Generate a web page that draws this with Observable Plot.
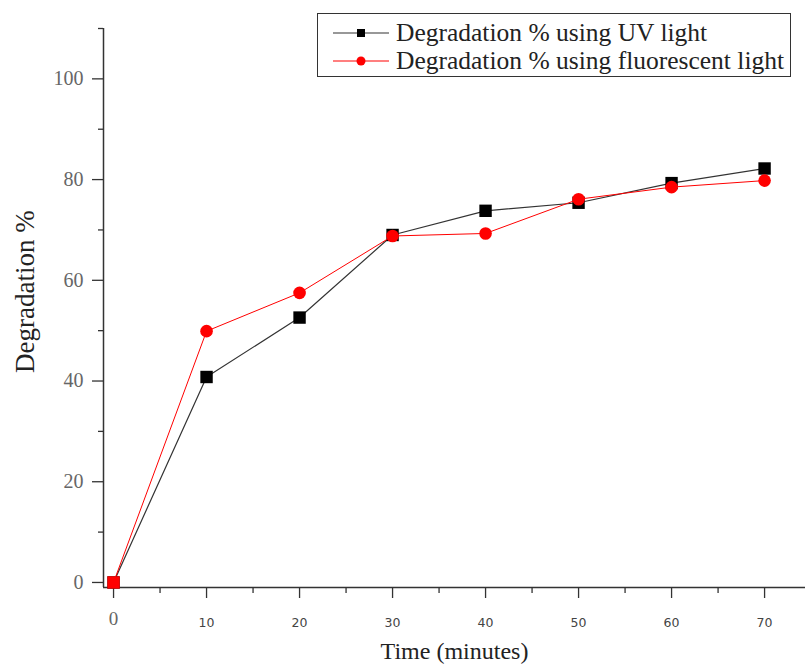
<!DOCTYPE html>
<html>
<head>
<meta charset="utf-8">
<script src="https://cdn.jsdelivr.net/npm/d3@7"></script>
<script src="https://cdn.jsdelivr.net/npm/@observablehq/plot@0.6"></script>
<style>
  body { margin: 0; background: #fff; }
  #wrap { position: relative; width: 805px; height: 664px; overflow: hidden; }
  #legend { position: absolute; left: 317px; top: 13px; width: 474px; height: 64px;
            border: 1.2px solid #333; background: #fff; box-sizing: border-box;
            font-family: "Liberation Serif", serif; font-size: 25.5px; color: #222; }
  #legend .row { position: absolute; left: 0; height: 28px; display: flex; align-items: center; white-space: nowrap; }
  #legend svg { flex: none; }
</style>
</head>
<body>
<div id="wrap"></div>
<script>
// ---- data ----
const times = [0, 10, 20, 30, 40, 50, 60, 70];
const uvValues = [0, 40.8, 52.6, 69.0, 73.8, 75.4, 79.3, 82.2];
const fluorescentValues = [0, 49.9, 57.5, 68.8, 69.3, 76.1, 78.5, 79.8];
const seriesNames = ["Degradation % using UV light", "Degradation % using fluorescent light"];
const xTickLabels = [10, 20, 30, 40, 50, 60, 70];
const xZeroTick = [0];
const xMinorTicks = [5, 15, 25, 35, 45, 55, 65];
const yTickLabels = [0, 20, 40, 60, 80, 100];
const yMinorTicks = [10, 30, 50, 70, 90, 110];
const xTitle = "Time (minutes)";
const yTitle = "Degradation %";

// ---- build tables ----
const uv = times.map((t, i) => ({ time: t, value: uvValues[i] }));
const fl = times.map((t, i) => ({ time: t, value: fluorescentValues[i] }));

const xDomain = [-1.08, 74.4];
const yDomain = [-1, 110];
const axisColor = "#333";
const serif = "Liberation Serif";
const noText = () => "";

const plot = Plot.plot({
  width: 805,
  height: 664,
  marginLeft: 103,
  marginRight: 0,
  marginTop: 28,
  marginBottom: 77,
  style: { background: "#fff", overflow: "visible" },
  x: { domain: xDomain, label: null },
  y: { domain: yDomain, label: null },
  marks: [
    // spines
    Plot.ruleX([xDomain[0]], { stroke: axisColor, strokeWidth: 1.5 }),
    Plot.ruleY([yDomain[0]], { stroke: axisColor, strokeWidth: 1.5 }),
    // y axis
    Plot.axisY(yTickLabels, { tickSize: 11, tickPadding: 9, fontSize: 20, fontFamily: serif,
      fill: "#666", stroke: axisColor, strokeWidth: 1.3, label: null }),
    Plot.axisY(yMinorTicks, { tickSize: 5, tickFormat: noText, stroke: axisColor, strokeWidth: 1.3, label: null }),
    // x axis
    Plot.axisX(xTickLabels, { tickSize: 11, tickPadding: 20, fontSize: 12.5, fontFamily: "DejaVu Sans",
      fill: "#444", stroke: axisColor, strokeWidth: 1.3, label: null }),
    Plot.axisX(xZeroTick, { tickSize: 11, tickPadding: 13, fontSize: 19, fontFamily: serif,
      fill: "#666", stroke: axisColor, strokeWidth: 1.3, label: null }),
    Plot.axisX(xMinorTicks, { tickSize: 6, tickFormat: noText, stroke: axisColor, strokeWidth: 1.3, label: null }),
    // titles
    Plot.text([xTitle], { text: d => d, frameAnchor: "bottom", lineAnchor: "middle", dy: 64,
      fontSize: 24, fontFamily: serif, fill: "#222" }),
    Plot.text([yTitle], { text: d => d, frameAnchor: "left", lineAnchor: "middle", rotate: -90,
      dx: -78, dy: 65, fontSize: 27, fontFamily: serif, fill: "#222" }),
    // UV series
    Plot.line(uv, { x: "time", y: "value", stroke: "#333", strokeWidth: 1.2 }),
    Plot.dot(uv, { x: "time", y: "value", symbol: "square", r: 7, fill: "#000", stroke: "none" }),
    // fluorescent series
    Plot.line(fl, { x: "time", y: "value", stroke: "#ff0000", strokeWidth: 1 }),
    Plot.dot(fl, { filter: d => d.time === 0, x: "time", y: "value", symbol: "square", r: 7, fill: "#ff0000", stroke: "none" }),
    Plot.dot(fl, { filter: d => d.time > 0, x: "time", y: "value", r: 6.3, fill: "#ff0000", stroke: "none" })
  ]
});

const wrap = document.getElementById("wrap");
wrap.appendChild(plot);

// ---- legend ----
const legend = document.createElement("div");
legend.id = "legend";
const rowTops = [5, 33];
const legendStyles = [
  { stroke: "#333", fill: "#000", shape: "square" },
  { stroke: "#ff0000", fill: "#ff0000", shape: "circle" }
];
seriesNames.forEach((name, i) => {
  const row = document.createElement("div");
  row.className = "row";
  row.style.top = rowTops[i] + "px";
  const s = legendStyles[i];
  const marker = s.shape === "square"
    ? `<rect x="39" y="10" width="8" height="8" fill="${s.fill}"/>`
    : `<circle cx="43" cy="14" r="4.5" fill="${s.fill}"/>`;
  row.innerHTML = `<svg width="78" height="28"><line x1="15" x2="71" y1="14" y2="14" stroke="${s.stroke}" stroke-width="1.2"/>${marker}</svg><span>${name}</span>`;
  legend.appendChild(row);
});
wrap.appendChild(legend);
</script>
</body>
</html>
